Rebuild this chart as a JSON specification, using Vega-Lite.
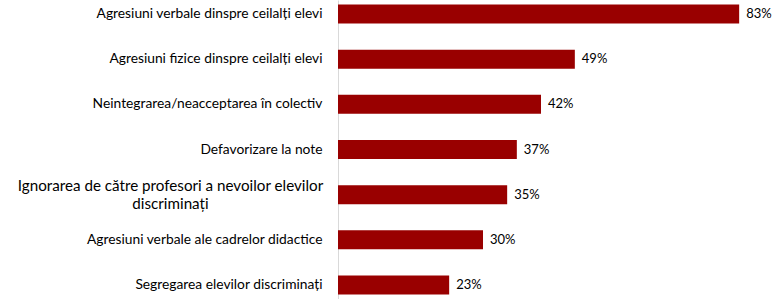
{
  "$schema": "https://vega.github.io/schema/vega-lite/v6.json",
  "autosize": {"type": "none"},
  "padding": {"left": 338, "top": 0, "right": 3, "bottom": 0},
  "width": 435,
  "height": 299,
  "background": "white",
  "data": {
    "values": [
      {"category": "Agresiuni verbale dinspre ceilalți elevi", "value": 0.83},
      {"category": "Agresiuni fizice dinspre ceilalți elevi", "value": 0.49},
      {"category": "Neintegrarea/neacceptarea în colectiv", "value": 0.42},
      {"category": "Defavorizare la note", "value": 0.37},
      {"category": "Ignorarea de către profesori a nevoilor elevilor discriminați", "value": 0.35},
      {"category": "Agresiuni verbale ale cadrelor didactice", "value": 0.30},
      {"category": "Segregarea elevilor discriminați", "value": 0.23}
    ]
  },
  "encoding": {
    "y": {
      "field": "category",
      "type": "nominal",
      "sort": null,
      "scale": {"paddingInner": 0.58, "paddingOuter": 0.1},
      "axis": {
        "title": null,
        "ticks": false,
        "domain": true,
        "domainColor": "#d9d9d9",
        "domainWidth": 1,
        "labelFont": "Lato",
        "labelFontSize": {"condition": {"test": "datum.value == 'Ignorarea de către profesori a nevoilor elevilor discriminați'", "value": 15.2}, "value": 13.8},
        "labelColor": "#000000",
        "labelAlign": {"condition": {"test": "datum.value == 'Ignorarea de către profesori a nevoilor elevilor discriminați'", "value": "center"}, "value": "right"},
        "labelPadding": {"condition": {"test": "datum.value == 'Ignorarea de către profesori a nevoilor elevilor discriminați'", "value": 168}, "value": 16},
        "labelOffset": {"condition": {"test": "datum.value == 'Ignorarea de către profesori a nevoilor elevilor discriminați'", "value": -9}, "value": 0},
        "labelLineHeight": 18,
        "labelLimit": 400,
        "labelExpr": "datum.value == 'Ignorarea de către profesori a nevoilor elevilor discriminați' ? ['Ignorarea de către profesori a nevoilor elevilor', 'discriminați'] : datum.value"
      }
    },
    "x": {
      "field": "value",
      "type": "quantitative",
      "scale": {"domain": [0, 0.9]},
      "axis": null
    }
  },
  "layer": [
    {"mark": {"type": "bar", "color": "#990000"}},
    {
      "mark": {"type": "text", "align": "left", "baseline": "middle", "dx": 7, "font": "Lato", "fontSize": 13, "color": "#000000"},
      "encoding": {"text": {"field": "value", "type": "quantitative", "format": ".0%"}}
    }
  ],
  "config": {"view": {"stroke": null}}
}
